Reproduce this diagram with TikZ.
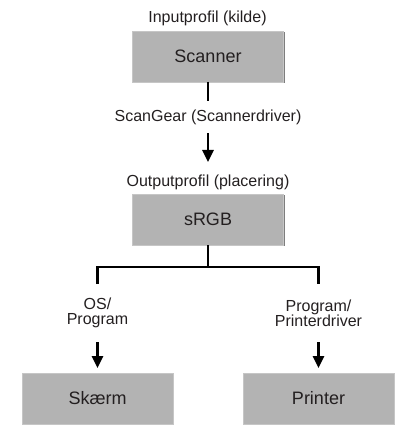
\documentclass[tikz,border=0pt]{standalone}
\usepackage{fontspec}
\setmainfont{Liberation Sans}
\usetikzlibrary{arrows.meta}
\definecolor{boxfill}{RGB}{179,179,179}
\definecolor{boxedge}{RGB}{198,198,198}
\definecolor{boxshade}{RGB}{125,125,125}
\definecolor{ink}{RGB}{35,31,32}
\begin{document}
\begin{tikzpicture}[x=1pt,y=-1pt,
   box/.style={fill=boxfill,draw=boxedge,line width=0.6pt,minimum width=151pt,minimum height=51pt,
     inner sep=0pt,outer sep=0pt,text=ink,font=\fontsize{18}{21}\selectfont,
     preaction={fill=boxshade,transform canvas={shift={(1.2pt,-1.2pt)}}}},
   lbl/.style={inner sep=0pt,outer sep=0pt,text=ink,align=center,font=\fontsize{16}{15}\selectfont},
   wire/.style={line width=2.6pt,black},
   arr/.style={wire,-{Triangle[width=11pt,length=12pt]}}]
   \useasboundingbox (0,0) rectangle (416,446);
   \node[lbl] (inprof) at (207.5,18) {Inputprofil (kilde)};
   \node[box] (scanner) at (208,56.5) {Scanner};
   \node[lbl,minimum height=32pt] (gear) at (208,117.5) {ScanGear (Scannerdriver)};
   \node[lbl,minimum height=40pt] (outprof) at (208,182) {Outputprofil (placering)};
   \node[box] (srgb) at (208,219.5) {sRGB};
   \coordinate (split) at (208,267);
   \node[lbl,minimum height=58pt] (os) at (97.5,313) {OS/\\Program};
   \node[lbl,minimum height=58pt] (drv) at (318.5,313) {Program/\\Printerdriver};
   \node[box] (screen) at (97.5,398.5) {Skærm};
   \node[box] (printer) at (318.5,398.5) {Printer};
   \draw[wire] (scanner) -- (gear);
   \draw[arr] (gear) -- (outprof);
   \draw[wire] (srgb) -- (split);
   \draw[wire] (os.north) |- (split) -| (drv.north);
   \draw[arr,shorten >=5pt] (os) -- (screen);
   \draw[arr,shorten >=5pt] (drv) -- (printer);
\end{tikzpicture}
\end{document}
